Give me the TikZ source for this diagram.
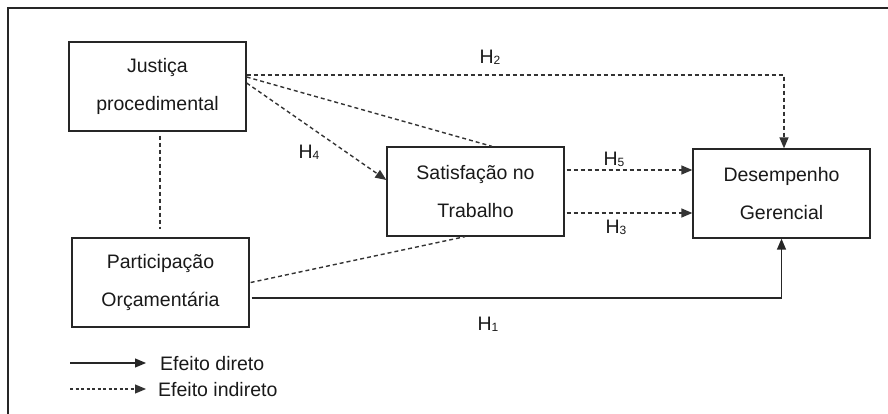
\documentclass[tikz,border=0pt]{standalone}
\usepackage{fontspec}
\setmainfont{Liberation Sans}
\usetikzlibrary{arrows.meta}
\definecolor{dline}{gray}{0.2}
\tikzset{
  box/.style={draw=black!85, line width=1.3pt, minimum width=177pt, minimum height=89pt, align=center,
    font=\fontsize{19.5}{38}\selectfont, text=black!90},
  direct/.style={draw=black!85, line width=1.4pt},
  indirect/.style={draw=dline, line width=1.4pt, dash pattern=on 4pt off 3pt},
  tip/.style={-{Triangle[length=11pt,width=9pt]}},
  hlab/.style={font=\fontsize{19.5}{20}\selectfont, text=black!90, inner sep=0pt},
}
\newcommand{\hyp}[1]{H\raisebox{-1pt}{\fontsize{12}{12}\selectfont #1}}
\begin{document}
\begin{tikzpicture}[x=1pt,y=-1pt]
\useasboundingbox (0,0) rectangle (888,414);
\draw[black!85, line width=1.3pt] (8,414) -- (8,8) -- (888,8);

\node[box] (J) at (157.5,86.5) {Justiça\\procedimental};
\node[box] (P) at (160.5,282.5) {Participação\\Orçamentária};
\node[box] (S) at (475.5,191.5) {Satisfação no\\Trabalho};
\node[box] (D) at (781.5,193.5) {Desempenho\\Gerencial};

% H2
\draw[indirect,tip] ([yshift=11.5pt]J.east) -| ([xshift=2.5pt]D.north);
% J -> S top
\draw[indirect] ([yshift=9.5pt]J.east) -- ([xshift=16.5pt]S.north);
% H4
\draw[indirect,tip] ([yshift=3.5pt]J.east) -- ([yshift=11.5pt]S.west);
% J -- P
\draw[indirect] ([xshift=2.5pt,yshift=-4pt]J.south) -- ([xshift=-0.5pt,yshift=8pt]P.north);
% P -> S bottom
\draw[indirect] ([xshift=1pt]P.east) -- ([xshift=-10.5pt]S.south);
% H5, H3
\draw[indirect,tip] ([xshift=2pt,yshift=21.5pt]S.east) -- ([yshift=23.5pt]D.west);
\draw[indirect,tip] ([xshift=2pt,yshift=-21.5pt]S.east) -- ([yshift=-19.5pt]D.west);
% H1
\draw[direct,tip] ([xshift=2pt,yshift=-15.5pt]P.east) -| (D.south);

\node[hlab] (h2) at (490,57) {\hyp{2}};
\node[hlab] (h4) at (309,152) {\hyp{4}};
\node[hlab] (h5) at (614,159) {\hyp{5}};
\node[hlab] (h3) at (616,227) {\hyp{3}};
\node[hlab] (h1) at (488,324) {\hyp{1}};

% legend
\coordinate (l1a) at (70,363);
\coordinate (l1b) at (146,363);
\coordinate (l2a) at (70,389);
\coordinate (l2b) at (146,389);
\draw[direct,line width=1.1pt,tip] (l1a) -- (l1b);
\draw[indirect,line width=1.1pt,dash pattern=on 3pt off 2.5pt,tip] (l2a) -- (l2b);
\node[hlab,anchor=west] (t1) at (160,364) {Efeito direto};
\node[hlab,anchor=west] (t2) at (158,390) {Efeito indireto};
\end{tikzpicture}
\end{document}
